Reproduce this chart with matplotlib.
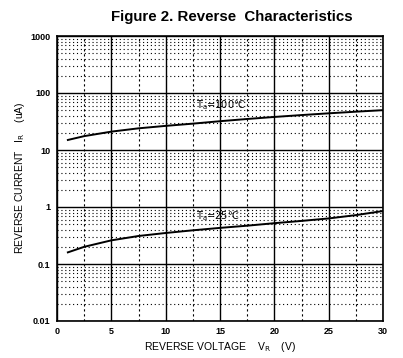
import numpy as np
import matplotlib.pyplot as plt
from matplotlib.ticker import FixedLocator, LogLocator, NullFormatter

plt.rcParams['font.family'] = ['Liberation Sans', 'DejaVu Sans']

# data
vr = [1, 2.5, 5, 7.5, 10, 12.5, 15, 17.5, 20, 22.5, 25, 27.5, 30]
ir_100 = [15, 17.5, 21, 24, 26.5, 29, 32, 35, 38, 41, 44, 47, 50]
ir_25 = [0.16, 0.2, 0.26, 0.31, 0.35, 0.39, 0.43, 0.47, 0.52, 0.57, 0.63, 0.72, 0.85]
yticks = [0.01, 0.1, 1, 10, 100, 1000]
ylabels = ['0.01', '0.1', '1', '10', '100', '1000']
xticks = [0, 5, 10, 15, 20, 25, 30]

fig = plt.figure(figsize=(4.03, 3.58), dpi=100)
ax = fig.add_axes([57/403, 1-321/358, 326/403, 285/358])

ax.plot(vr, ir_100, color='black', lw=1.4)
ax.plot(vr, ir_25, color='black', lw=1.4)

ax.set_yscale('log')
ax.set_xlim(0, 30)
ax.set_ylim(0.01, 1000)
ax.set_xticks(xticks)
ax.set_xticklabels([str(x) for x in xticks])
ax.set_yticks(yticks)
ax.set_yticklabels(ylabels)
ax.yaxis.set_minor_locator(LogLocator(base=10, subs=np.arange(2, 10)))
ax.yaxis.set_minor_formatter(NullFormatter())
ax.xaxis.set_minor_locator(FixedLocator([2.5, 7.5, 12.5, 17.5, 22.5, 27.5]))

ax.grid(True, which='major', color='black', lw=1.0, ls='-')
ax.grid(True, which='minor', axis='y', color='black', lw=0.8, ls=(0, (1, 2.5)))
ax.grid(True, which='minor', axis='x', color='black', lw=0.8, ls=(0, (2, 2.5)))
ax.tick_params(which='both', length=0, labelsize=6.5)
for lab in ax.get_xticklabels() + ax.get_yticklabels():
    lab.set_fontweight('bold')
ax.tick_params(axis='x', pad=4)
ax.tick_params(axis='y', pad=5)
for s in ax.spines.values():
    s.set_linewidth(1.2)

ax.text(12.8, 55, r'T$_{\rm a}$=100℃', fontsize=7, family=['DejaVu Sans'])
ax.text(12.8, 0.6, r'T$_{\rm a}$=25℃', fontsize=7, family=['DejaVu Sans'])

fig.text(220/403, 1-347/358, r'REVERSE VOLTAGE    V$_{\rm R}$    (V)', fontsize=7.5,
         ha='center', va='center')
fig.text(20/403, 1-178/358, r'REVERSE CURRENT   I$_{\rm R}$    (uA)', fontsize=7.5,
         ha='center', va='center', rotation=90)

fig.text(232/403, 1-17/358, 'Figure 2. Reverse  Characteristics', ha='center', va='center',
         fontsize=10.8, fontweight='bold')

fig.savefig('out.png', dpi=100)
